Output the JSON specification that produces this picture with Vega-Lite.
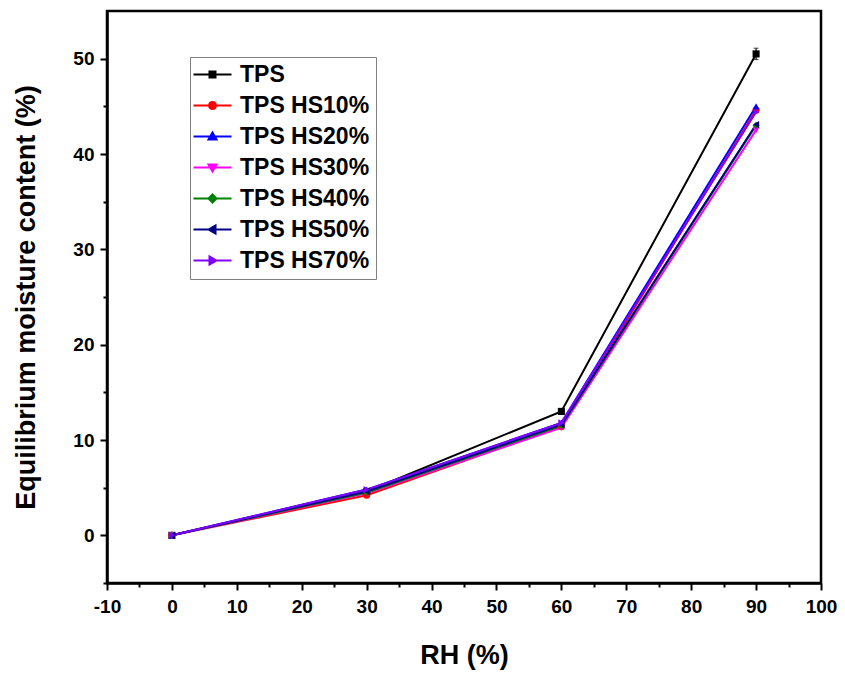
{
  "$schema": "https://vega.github.io/schema/vega-lite/v6.json",
  "width": 714,
  "height": 572,
  "autosize": {"type": "none"},
  "padding": {"left": 107, "top": 11, "right": 24, "bottom": 101},
  "background": "white",
  "config": {
    "view": {"stroke": "black", "strokeWidth": 2.5},
    "font": "Liberation Sans",
    "axis": {"grid": false, "domainColor": "black", "domainWidth": 2.5, "tickColor": "black", "tickWidth": 2, "labelFont": "Liberation Sans", "labelFontWeight": "bold", "labelFontSize": 18, "labelColor": "black", "titleFont": "Liberation Sans", "titleFontWeight": "bold", "titleFontSize": 27, "titleColor": "black"},
    "point": {"filled": true, "size": 50, "opacity": 1}
  },
  "data": {"values": [
    {"series": "TPS", "rh": 0, "emc": 0, "err": 0.1},
    {"series": "TPS", "rh": 30, "emc": 4.6, "err": 0.1},
    {"series": "TPS", "rh": 60, "emc": 13.0, "err": 0.3},
    {"series": "TPS", "rh": 90, "emc": 50.5, "err": 0.6},
    {"series": "TPS HS10%", "rh": 0, "emc": 0, "err": 0},
    {"series": "TPS HS10%", "rh": 30, "emc": 4.2, "err": 0},
    {"series": "TPS HS10%", "rh": 60, "emc": 11.4, "err": 0},
    {"series": "TPS HS10%", "rh": 90, "emc": 44.6, "err": 0},
    {"series": "TPS HS20%", "rh": 0, "emc": 0, "err": 0},
    {"series": "TPS HS20%", "rh": 30, "emc": 4.8, "err": 0},
    {"series": "TPS HS20%", "rh": 60, "emc": 11.8, "err": 0},
    {"series": "TPS HS20%", "rh": 90, "emc": 45.0, "err": 0},
    {"series": "TPS HS30%", "rh": 0, "emc": 0, "err": 0},
    {"series": "TPS HS30%", "rh": 30, "emc": 4.4, "err": 0},
    {"series": "TPS HS30%", "rh": 60, "emc": 11.3, "err": 0},
    {"series": "TPS HS30%", "rh": 90, "emc": 42.5, "err": 0},
    {"series": "TPS HS40%", "rh": 0, "emc": 0, "err": 0},
    {"series": "TPS HS40%", "rh": 30, "emc": 4.5, "err": 0},
    {"series": "TPS HS40%", "rh": 60, "emc": 11.5, "err": 0},
    {"series": "TPS HS40%", "rh": 90, "emc": 43.0, "err": 0},
    {"series": "TPS HS50%", "rh": 0, "emc": 0, "err": 0},
    {"series": "TPS HS50%", "rh": 30, "emc": 4.6, "err": 0},
    {"series": "TPS HS50%", "rh": 60, "emc": 11.6, "err": 0},
    {"series": "TPS HS50%", "rh": 90, "emc": 43.1, "err": 0},
    {"series": "TPS HS70%", "rh": 0, "emc": 0, "err": 0},
    {"series": "TPS HS70%", "rh": 30, "emc": 4.8, "err": 0},
    {"series": "TPS HS70%", "rh": 60, "emc": 11.8, "err": 0},
    {"series": "TPS HS70%", "rh": 90, "emc": 44.4, "err": 0}
  ]},
  "resolve": {"axis": {"x": "independent", "y": "independent"}},
  "layer": [
    {
      "mark": {"type": "line", "strokeWidth": 2},
      "encoding": {
        "x": {"field": "rh", "type": "quantitative", "scale": {"domain": [-10, 100], "nice": false, "zero": false},
          "axis": {"orient": "bottom", "title": "RH (%)", "values": [-10, 0, 10, 20, 30, 40, 50, 60, 70, 80, 90, 100], "labelExpr": "'' + datum.value", "tickSize": 7, "labelPadding": 7, "labelFontSize": 19, "titlePadding": 26, "labelFlush": false}},
        "y": {"field": "emc", "type": "quantitative", "scale": {"domain": [-5, 55], "nice": false, "zero": false},
          "axis": {"orient": "left", "title": "Equilibrium moisture content (%)", "values": [0, 10, 20, 30, 40, 50], "tickSize": 7, "labelPadding": 6, "labelFontSize": 19, "titlePadding": 32, "labelFlush": false}},
        "color": {"field": "series", "type": "nominal",
          "scale": {"domain": ["TPS", "TPS HS10%", "TPS HS20%", "TPS HS30%", "TPS HS40%", "TPS HS50%", "TPS HS70%"], "range": ["#000000", "#FF0000", "#0000FF", "#FF00FF", "#008000", "#000080", "#8000FF"]},
          "legend": {
            "title": null, "orient": "none", "legendX": 83, "legendY": 46,
            "strokeColor": "#7f7f7f", "padding": 6, "fillColor": "white",
            "labelFont": "Liberation Sans", "labelFontWeight": "bold", "labelFontSize": 23, "labelColor": "black",
            "symbolSize": 100, "symbolOffset": 5, "labelOffset": 16, "rowPadding": 7,
            "symbolStrokeWidth": 2,
            "encode": {"symbols": {"update": {
              "shape": {"signal": "({'TPS':'M-3.8,0H3.8M-0.6,-0.6H0.6V0.6H-0.6Z','TPS HS10%':'M-3.8,0H3.8M-0.7,0A0.7,0.7 0 1,0 0.7,0A0.7,0.7 0 1,0 -0.7,0Z','TPS HS20%':'M-3.8,0H3.8M0,-0.8L0.8,0.6H-0.8Z','TPS HS30%':'M-3.8,0H3.8M0,0.8L0.8,-0.6H-0.8Z','TPS HS40%':'M-3.8,0H3.8M0,-0.8L0.8,0L0,0.8L-0.8,0Z','TPS HS50%':'M-3.8,0H3.8M-0.8,0L0.6,-0.8V0.8Z','TPS HS70%':'M-3.8,0H3.8M0.8,0L-0.6,-0.8V0.8Z'})[datum.value]"},
              "fill": {"signal": "scale('color', datum.value)"},
              "stroke": {"signal": "scale('color', datum.value)"}
            }}}
          }}
      }
    },
    {
      "transform": [{"filter": "datum.err > 0"}],
      "mark": {"type": "errorbar", "ticks": {"color": "black", "strokeWidth": 1.2}, "rule": {"color": "black", "strokeWidth": 1.2}},
      "encoding": {
        "x": {"field": "rh", "type": "quantitative", "axis": null},
        "y": {"field": "emc", "type": "quantitative", "axis": null},
        "yError": {"field": "err"}
      }
    },
    {
      "transform": [{"filter": "datum.series === 'TPS'"}],
      "mark": {"type": "point", "shape": "square"},
      "encoding": {
        "x": {"field": "rh", "type": "quantitative",
          "axis": {"orient": "bottom", "title": null, "labels": false, "domain": false, "values": [-5, 5, 15, 25, 35, 45, 55, 65, 75, 85, 95], "tickSize": 4}},
        "y": {"field": "emc", "type": "quantitative",
          "axis": {"orient": "left", "title": null, "labels": false, "domain": false, "values": [-5, 5, 15, 25, 35, 45], "tickSize": 4}},
        "color": {"field": "series", "type": "nominal", "legend": null}
      }
    },
    {
      "transform": [{"filter": "datum.series === 'TPS HS10%'"}],
      "mark": {"type": "point", "shape": "circle"},
      "encoding": {
        "x": {"field": "rh", "type": "quantitative", "axis": null},
        "y": {"field": "emc", "type": "quantitative", "axis": null},
        "color": {"field": "series", "type": "nominal", "legend": null}
      }
    },
    {
      "transform": [{"filter": "datum.series === 'TPS HS20%'"}],
      "mark": {"type": "point", "shape": "triangle-up"},
      "encoding": {
        "x": {"field": "rh", "type": "quantitative", "axis": null},
        "y": {"field": "emc", "type": "quantitative", "axis": null},
        "color": {"field": "series", "type": "nominal", "legend": null}
      }
    },
    {
      "transform": [{"filter": "datum.series === 'TPS HS30%'"}],
      "mark": {"type": "point", "shape": "triangle-down"},
      "encoding": {
        "x": {"field": "rh", "type": "quantitative", "axis": null},
        "y": {"field": "emc", "type": "quantitative", "axis": null},
        "color": {"field": "series", "type": "nominal", "legend": null}
      }
    },
    {
      "transform": [{"filter": "datum.series === 'TPS HS40%'"}],
      "mark": {"type": "point", "shape": "diamond"},
      "encoding": {
        "x": {"field": "rh", "type": "quantitative", "axis": null},
        "y": {"field": "emc", "type": "quantitative", "axis": null},
        "color": {"field": "series", "type": "nominal", "legend": null}
      }
    },
    {
      "transform": [{"filter": "datum.series === 'TPS HS50%'"}],
      "mark": {"type": "point", "shape": "triangle-left"},
      "encoding": {
        "x": {"field": "rh", "type": "quantitative", "axis": null},
        "y": {"field": "emc", "type": "quantitative", "axis": null},
        "color": {"field": "series", "type": "nominal", "legend": null}
      }
    },
    {
      "transform": [{"filter": "datum.series === 'TPS HS70%'"}],
      "mark": {"type": "point", "shape": "triangle-right"},
      "encoding": {
        "x": {"field": "rh", "type": "quantitative", "axis": null},
        "y": {"field": "emc", "type": "quantitative", "axis": null},
        "color": {"field": "series", "type": "nominal", "legend": null}
      }
    }
  ]
}
